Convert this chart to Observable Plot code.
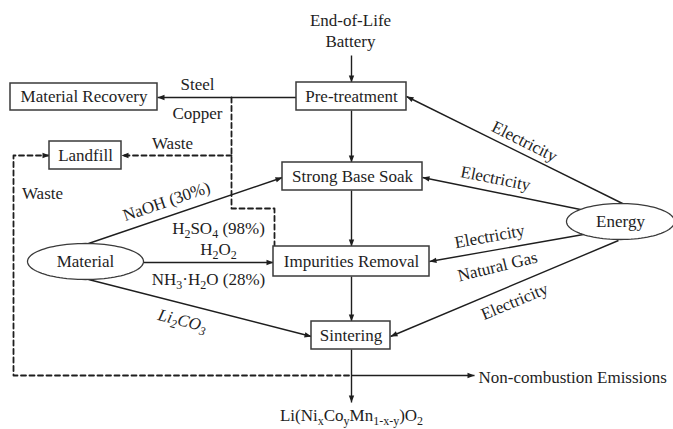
<!DOCTYPE html>
<html>
<head>
<meta charset="utf-8">
<script src="https://cdn.jsdelivr.net/npm/d3@7"></script>
<script src="https://cdn.jsdelivr.net/npm/@observablehq/plot@0.6"></script>
<style>
  html, body { margin: 0; padding: 0; background: #fff; }
  #chart { width: 673px; height: 429px; }
</style>
</head>
<body>
<div id="chart"></div>
<script>
// ---- Process boxes ----
const boxLabels = ["Material Recovery", "Pre-treatment", "Landfill", "Strong Base Soak", "Impurities Removal", "Sintering"];
const boxLeft   = [10, 296, 49, 282, 273, 311];
const boxRight  = [157, 406, 121, 422, 429, 390];
const boxTop    = [83, 82, 141, 162, 246, 321];
const boxBottom = [110, 110, 169, 190, 276, 349];

// ---- Ellipse nodes ----
const ellipseLabels = ["Material", "Energy"];
const ellipseCx = [85, 620];
const ellipseCy = [261, 221];
const ellipseRx = [58, 54];
const ellipseRy = [18, 18];

// ---- Solid flows (from -> to) ----
const flowX1 = [351, 296, 351, 351, 351, 351, 88, 143, 88, 622, 580, 583, 618, 351];
const flowY1 = [55, 97, 110, 190, 276, 349, 243, 262, 279, 203, 209, 234, 240, 375];
const flowX2 = [351, 157, 351, 351, 351, 351, 282, 273, 311, 406, 422, 429, 390, 474];
const flowY2 = [82, 97, 162, 246, 321, 402, 177, 262, 336, 96, 177, 261, 336, 375];

// ---- Dashed flows (polylines) ----
const dashId = ["copper", "copper", "copper", "copper", "waste1", "waste1", "waste2", "waste2", "waste2", "waste2"];
const dashX  = [231, 231, 274, 274, 231, 121, 49, 13, 13, 351];
const dashY  = [97, 208, 208, 246, 155, 155, 155, 155, 375, 375];
// dashed arrow heads: tip and direction source
const dashHeadX = [121, 49];
const dashHeadY = [155, 155];
const dashFromX = [231, 13];
const dashFromY = [155, 155];

// ---- Flow labels ----
const labelText = ["End-of-Life", "Battery", "Steel", "Copper", "Waste", "Waste", "NaOH (30%)",
  "H_{2}SO_{4} (98%)", "H_{2}O_{2}", "NH_{3}·H_{2}O (28%)",
  "Electricity", "Electricity", "Electricity", "Natural Gas", "Electricity",
  "Li(Ni_{x}Co_{y}Mn_{1-x-y})O_{2}"];
const labelX = [350, 350, 197, 197, 172, 42, 166, 218, 218, 208, 524, 495, 489, 497, 514, 351];
const labelY = [20, 41, 84, 113, 143, 193, 201, 228, 249, 279, 141, 178, 236, 266, 301, 415];
const labelAngle = [0, 0, 0, 0, 0, 0, -18.8, 0, 0, 0, 26.7, 11.3, -10.3, -13.8, -22.7, 0];

const italicText = ["Li_{2}CO_{3}"];
const italicX = [182];
const italicY = [320];
const italicAngle = [14];

const emissionText = ["Non-combustion Emissions"];
const emissionX = [478];
const emissionY = [377];

// ---- Build tables ----
const boxes = boxLabels.map((label, i) => ({label, x1: boxLeft[i], x2: boxRight[i], y1: boxTop[i], y2: boxBottom[i],
  cx: (boxLeft[i] + boxRight[i]) / 2, cy: (boxTop[i] + boxBottom[i]) / 2}));
const ellipsePts = [];
ellipseLabels.forEach((label, i) => {
  for (let k = 0; k <= 96; k++) {
    const t = (k / 96) * 2 * Math.PI;
    ellipsePts.push({label, x: ellipseCx[i] + ellipseRx[i] * Math.cos(t), y: ellipseCy[i] + ellipseRy[i] * Math.sin(t)});
  }
});
const ellipses = ellipseLabels.map((label, i) => ({label, x: ellipseCx[i], y: ellipseCy[i]}));
const flows = flowX1.map((_, i) => ({x1: flowX1[i], y1: flowY1[i], x2: flowX2[i], y2: flowY2[i]}));
const dashes = dashId.map((id, i) => ({id, x: dashX[i], y: dashY[i]}));
const heads = flows.map(f => ({x: f.x2, y: f.y2, a: Math.atan2(f.x2 - f.x1, -(f.y2 - f.y1)) * 180 / Math.PI}))
  .concat(dashHeadX.map((x, i) => ({x, y: dashHeadY[i], a: Math.atan2(x - dashFromX[i], -(dashHeadY[i] - dashFromY[i])) * 180 / Math.PI})));
const labels = labelText.map((text, i) => ({text, x: labelX[i], y: labelY[i], a: labelAngle[i]}));
const italics = italicText.map((text, i) => ({text, x: italicX[i], y: italicY[i], a: italicAngle[i]}));
const emissions = emissionText.map((text, i) => ({text, x: emissionX[i], y: emissionY[i]}));

const arrowHead = {
  draw(ctx) {
    const l = 7, w = 2.7;
    ctx.moveTo(0, 0);
    ctx.lineTo(w, l);
    ctx.lineTo(-w, l);
    ctx.closePath();
  }
};

const ink = "#1e1e1e";
const font = "'Liberation Serif', 'Times New Roman', serif";

const chart = Plot.plot({
  width: 673,
  height: 429,
  margin: 0,
  x: {domain: [0, 673], range: [0, 673], axis: null},
  y: {domain: [0, 429], range: [0, 429], axis: null},
  style: {fontFamily: font, fontSize: "17px", background: "#fff", color: ink},
  marks: [
    Plot.line(dashes, {x: "x", y: "y", z: "id", stroke: ink, strokeWidth: 1.8, strokeDasharray: "5,3.5", curve: "linear"}),
    Plot.link(flows, {x1: "x1", y1: "y1", x2: "x2", y2: "y2", stroke: ink, strokeWidth: 1.4}),
    Plot.dot(heads, {x: "x", y: "y", rotate: "a", symbol: arrowHead, fill: ink, stroke: "none", r: 3}),
    Plot.rect(boxes, {x1: "x1", x2: "x2", y1: "y1", y2: "y2", fill: "#fff", stroke: "#3a3a3a", strokeWidth: 1.5}),
    Plot.line(ellipsePts, {x: "x", y: "y", z: "label", stroke: "#3a3a3a", strokeWidth: 1.3, fill: "#fff"}),
    Plot.text(boxes, {x: "cx", y: "cy", text: "label", fontSize: 17, fill: ink}),
    Plot.text(ellipses, {x: "x", y: "y", text: "label", fontSize: 17, fill: ink}),
    Plot.text(labels, {x: "x", y: "y", text: "text", rotate: "a", fontSize: 17, fill: ink}),
    Plot.text(italics, {x: "x", y: "y", text: "text", rotate: "a", fontSize: 17, fontStyle: "italic", fill: ink}),
    Plot.text(emissions, {x: "x", y: "y", text: "text", fontSize: 17, textAnchor: "start", fill: ink})
  ]
});

// Render _{...} as subscripts (real text, tspans)
const NS = "http://www.w3.org/2000/svg";
chart.querySelectorAll("text").forEach(t => {
  const s = t.textContent;
  if (!s.includes("_{")) return;
  while (t.firstChild) t.removeChild(t.firstChild);
  const re = /_\{([^}]*)\}/g;
  let last = 0, m, shifted = false;
  const add = (str, sub) => {
    if (!str) return;
    const sp = document.createElementNS(NS, "tspan");
    sp.textContent = str;
    if (sub) {
      sp.setAttribute("font-size", "12px");
      if (!shifted) { sp.setAttribute("dy", "4"); shifted = true; }
    } else if (shifted) {
      sp.setAttribute("dy", "-4"); shifted = false;
    }
    t.appendChild(sp);
  };
  while ((m = re.exec(s))) {
    add(s.slice(last, m.index), false);
    add(m[1], true);
    last = re.lastIndex;
  }
  add(s.slice(last), false);
});

document.getElementById("chart").appendChild(chart);
</script>
</body>
</html>
